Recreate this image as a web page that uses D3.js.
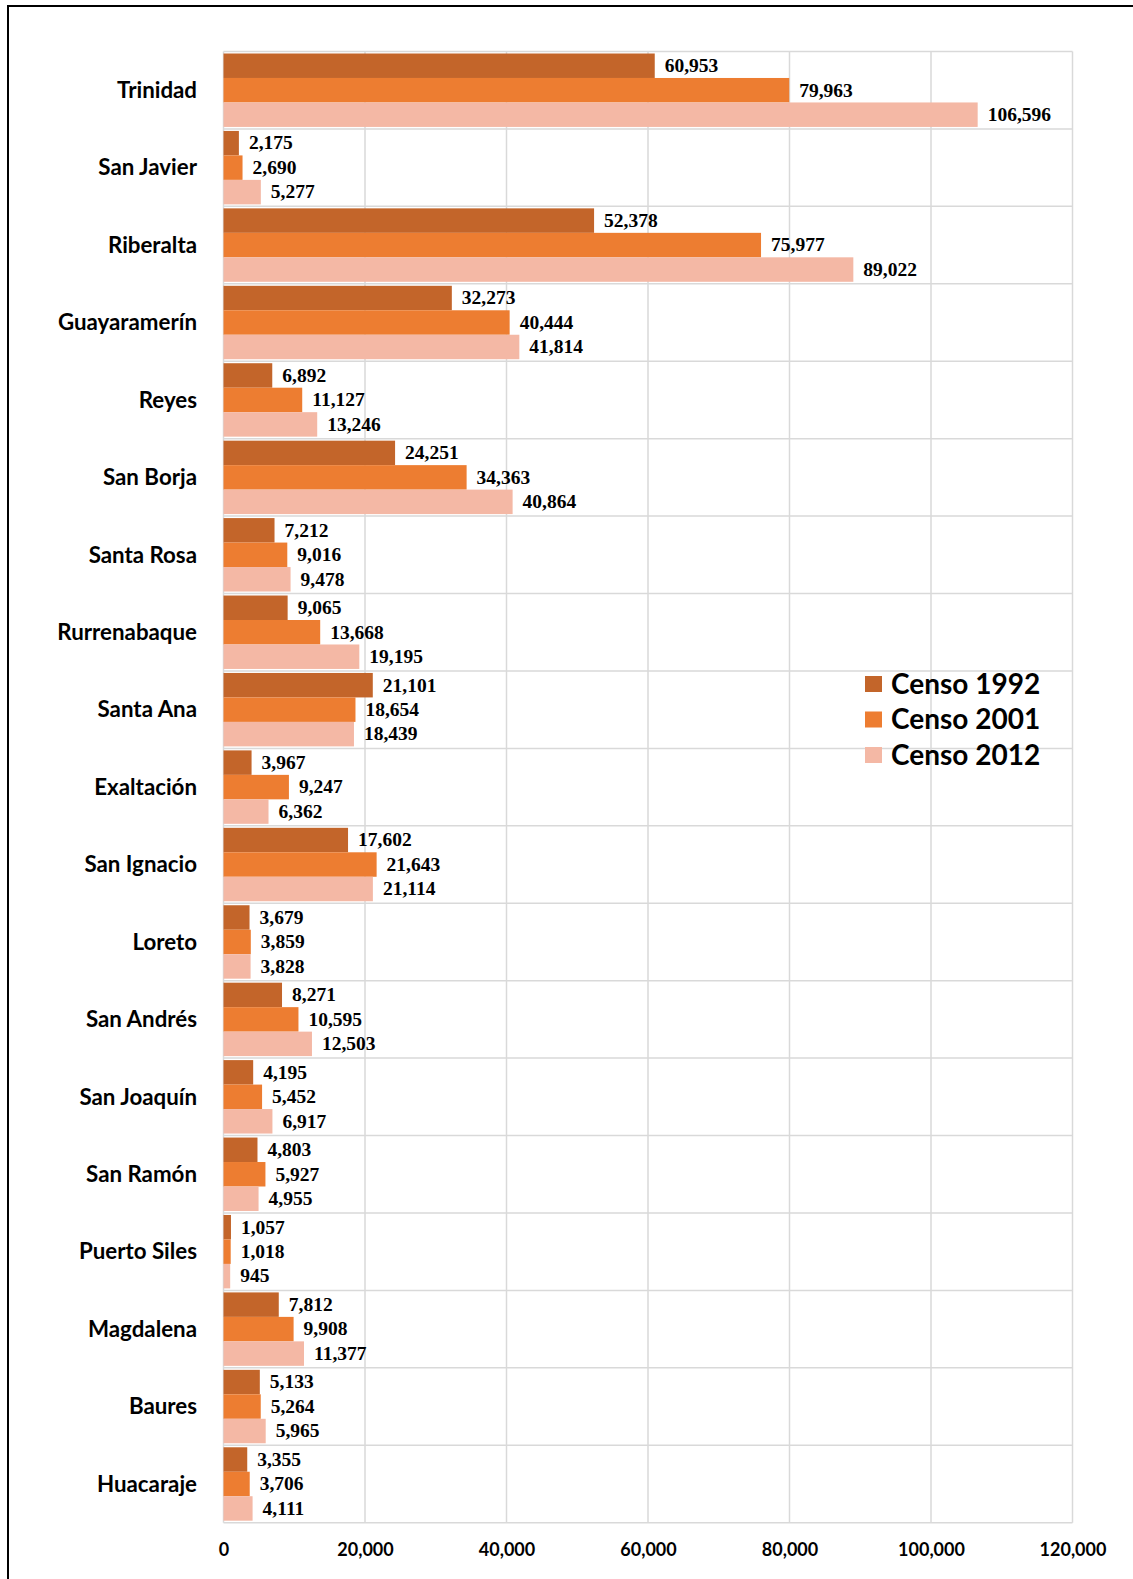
<!DOCTYPE html>
<html><head><meta charset="utf-8">
<script src="https://cdn.jsdelivr.net/npm/d3@7"></script>
<style>html,body{margin:0;padding:0;background:#fff;}svg{display:block;}</style>
</head><body>
<script>
const categories = ["Trinidad","San Javier","Riberalta","Guayaramerín","Reyes","San Borja","Santa Rosa","Rurrenabaque","Santa Ana","Exaltación","San Ignacio","Loreto","San Andrés","San Joaquín","San Ramón","Puerto Siles","Magdalena","Baures","Huacaraje"];
const seriesNames = ["Censo 1992","Censo 2001","Censo 2012"];
const censo1992 = [60953,2175,52378,32273,6892,24251,7212,9065,21101,3967,17602,3679,8271,4195,4803,1057,7812,5133,3355];
const censo2001 = [79963,2690,75977,40444,11127,34363,9016,13668,18654,9247,21643,3859,10595,5452,5927,1018,9908,5264,3706];
const censo2012 = [106596,5277,89022,41814,13246,40864,9478,19195,18439,6362,21114,3828,12503,6917,4955,945,11377,5965,4111];
const xTicks = [0,20000,40000,60000,80000,100000,120000];
const colors = ["#C3652A","#ED7D31","#F4B8A5"];

(function () {
const W = 1133, H = 1579;
const svg = d3.select("body").append("svg").attr("width", W).attr("height", H);

svg.append("rect").attr("x", 8).attr("y", 6).attr("width", W + 20).attr("height", H + 20)
  .attr("fill", "none").attr("stroke", "#000").attr("stroke-width", 2);

const pL = 223.5, pR = 1072.5, pT = 51.5, pB = 1522.7;
const x = d3.scaleLinear().domain([0, 120000]).range([pL, pR]);
const y0 = d3.scaleBand().domain(categories).range([pT, pB]).paddingInner(0).paddingOuter(0);
const step = y0.step();
const y1 = d3.scaleBand().domain(seriesNames).range([2, step - 2]).padding(0);

const data = [censo1992, censo2001, censo2012];
const grid = svg.append("g").attr("stroke", "#d9d9d9").attr("stroke-width", 1.5);
grid.selectAll("line.v").data(xTicks).enter().append("line")
  .attr("x1", d => x(d)).attr("x2", d => x(d)).attr("y1", pT).attr("y2", pB);
const hb = categories.map(c => y0(c)).concat([pB]);
grid.selectAll("line.h").data(hb).enter().append("line")
  .attr("x1", pL).attr("x2", pR).attr("y1", d => d).attr("y2", d => d);

const g = svg.append("g");
categories.forEach((c, i) => {
  seriesNames.forEach((s, j) => {
    const v = data[j][i];
    const yy = y0(c) + y1(s);
    g.append("rect").attr("x", x(0)).attr("y", yy).attr("width", x(v) - x(0)).attr("height", y1.bandwidth())
      .attr("fill", colors[j]);
    g.append("text").attr("x", x(v) + 10).attr("y", yy + y1.bandwidth() / 2 - 0.5)
      .attr("dy", "0.35em")
      .attr("font-family", "'Liberation Serif', 'Times New Roman', serif").attr("font-weight", "bold")
      .attr("font-size", 19.5).attr("fill", "#000").text(d3.format(",")(v));
  });
});

svg.append("g").selectAll("text").data(categories).enter().append("text")
  .attr("x", 197).attr("y", d => y0(d) + step / 2).attr("dy", "0.35em")
  .attr("text-anchor", "end").attr("font-family", "Lato, sans-serif").attr("font-weight", "bold")
  .attr("font-size", 22.3).attr("fill", "#000").text(d => d);

const xAxis = d3.axisBottom(x).tickValues(xTicks).tickFormat(d3.format(",")).tickSize(0).tickPadding(0);
const ax = svg.append("g").attr("transform", `translate(0,${pB})`).call(xAxis);
ax.select(".domain").remove();
ax.selectAll("text").attr("y", 27).attr("dy", "0.35em")
  .attr("font-family", "Lato, sans-serif").attr("font-weight", "bold").attr("font-size", 18).attr("fill", "#000");

const lg = svg.append("g");
seriesNames.forEach((s, j) => {
  const cy = 684 + j * 35.5;
  lg.append("rect").attr("x", 865).attr("y", cy - 8).attr("width", 17).attr("height", 16).attr("fill", colors[j]);
  lg.append("text").attr("x", 891).attr("y", cy).attr("dy", "0.35em")
    .attr("font-family", "Lato, sans-serif").attr("font-weight", "bold").attr("font-size", 28).attr("fill", "#000").text(s);
});
})();
</script>
</body></html>
